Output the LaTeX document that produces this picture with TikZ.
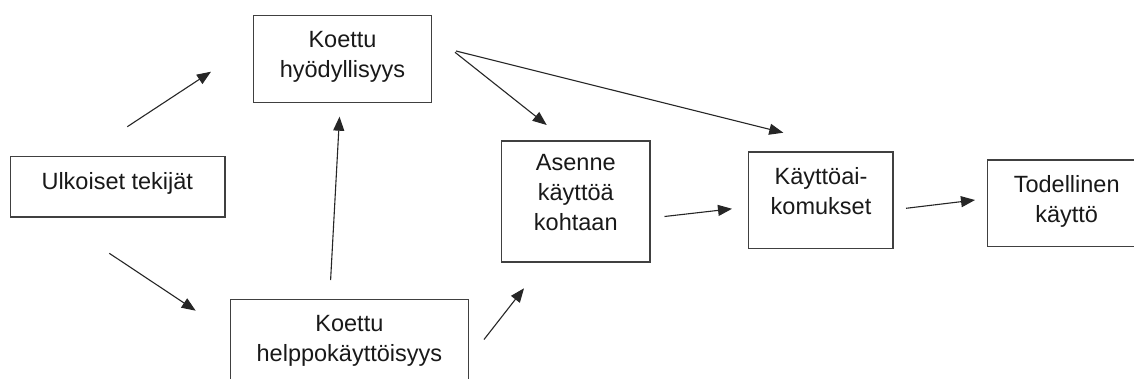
\documentclass[tikz,border=0pt]{standalone}
\usepackage{fontspec}
\setmainfont{Liberation Sans}
\usetikzlibrary{arrows.meta}
\tikzset{
  box/.style={draw=black!75, line width=1.2pt, rectangle, inner sep=0pt},
  lbl/.style={anchor=base, inner sep=0pt, text=black!90,
    font=\fontsize{23.5}{29.7}\selectfont},
  conn/.style={draw=black!85, line width=1.1pt,
    -{Triangle[length=14pt,width=11pt]}}
}
\begin{document}
\begin{tikzpicture}[x=1pt,y=-1pt]
\useasboundingbox (0,0) rectangle (1134,378);
\fill[white] (0,0) rectangle (1134,378);
\clip (0,0) rectangle (1134,378);
% boxes
\node[box, minimum width=178.2pt, minimum height=87.2pt] (hyod) at (342.4,58.9) {};
\node[box, minimum width=214.3pt, minimum height=60.5pt] (ulk) at (117.85,186.75) {};
\node[box, minimum width=237.6pt, minimum height=100.7pt] (help) at (349.5,349.65) {};
\node[box, minimum width=148.3pt, minimum height=121pt] (ase) at (575.85,201.5) {};
\node[box, minimum width=144.5pt, minimum height=96.5pt] (aik) at (820.75,200.25) {};
\node[box, minimum width=158.5pt, minimum height=86.7pt] (tod) at (1066.75,203.35) {};
% texts
\node[lbl] (thyod) at (342.5,47.7) {\begin{tabular}[t]{@{}c@{}}Koettu\\hyödyllisyys\end{tabular}};
\node[lbl] (tulk) at (117.3,189.3) {Ulkoiset tekijät};
\node[lbl] (thelp) at (349.4,331.7) {\begin{tabular}[t]{@{}c@{}}Koettu\\helppokäyttöisyys\end{tabular}};
\node[lbl] (tase) at (575.8,170.7) {\begin{tabular}[t]{@{}c@{}}Asenne\\käyttöä\\kohtaan\end{tabular}};
\node[lbl] (taik) at (821,184.3) {\begin{tabular}[t]{@{}c@{}}Käyttöai-\\komukset\end{tabular}};
\node[lbl] (ttod) at (1066.7,192.3) {\begin{tabular}[t]{@{}c@{}}Todellinen\\käyttö\end{tabular}};
% connector end points
\coordinate (a1s) at (127.3,126.7); \coordinate (a1e) at (211,71.7);
\coordinate (a2s) at (109.3,253.3); \coordinate (a2e) at (195.7,310.7);
\coordinate (a3s) at (330.6,280);   \coordinate (a3e) at (339.5,116.7);
\coordinate (a4s) at (455,52.3);    \coordinate (a4e) at (546.7,125);
\coordinate (a5s) at (456,51);      \coordinate (a5e) at (783.3,132.7);
\coordinate (a6s) at (484,339.5);   \coordinate (a6e) at (524,288.3);
\coordinate (a7s) at (664.5,216.5); \coordinate (a7e) at (732,208.8);
\coordinate (a8s) at (906,208.3);   \coordinate (a8e) at (975,200);
\draw[conn] (a1s) -- (a1e);
\draw[conn] (a2s) -- (a2e);
\draw[conn] (a3s) -- (a3e);
\draw[conn] (a4s) -- (a4e);
\draw[conn] (a5s) -- (a5e);
\draw[conn] (a6s) -- (a6e);
\draw[conn] (a7s) -- (a7e);
\draw[conn] (a8s) -- (a8e);
\end{tikzpicture}
\end{document}
